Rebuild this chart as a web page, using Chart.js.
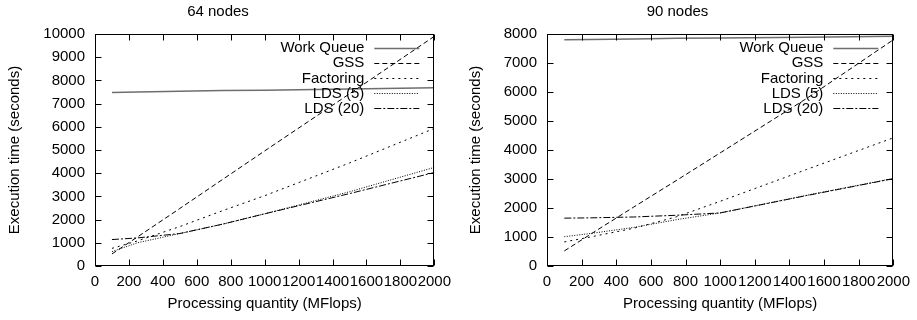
<!DOCTYPE html>
<html>
<head>
<meta charset="utf-8">
<script src="https://cdn.jsdelivr.net/npm/chart.js@4"></script>
<style>
  body { margin: 0; background: #fff; }
  .panel { position: absolute; top: 0; height: 320px; }
</style>
</head>
<body>
<div class="panel" style="left:0;width:458px"><canvas id="chart64" width="458" height="320"></canvas></div>
<div class="panel" style="left:458px;width:459px"><canvas id="chart90" width="459" height="320"></canvas></div>
<script>
// Processing quantity (MFlops) at which each run was measured
const mflops = [100, 250, 500, 750, 1000, 1500, 2000];

// 64 nodes, execution time (seconds)
const n64WorkQueue = [7480, 7500, 7530, 7560, 7580, 7630, 7680];
const n64Gss = [520, 1250, 2480, 3720, 4960, 7420, 9900];
const n64Factoring = [760, 1080, 1700, 2380, 3030, 4440, 5930];
const n64Lds5 = [620, 1000, 1400, 1800, 2250, 3200, 4250];
const n64Lds20 = [1140, 1210, 1400, 1800, 2250, 3120, 4030];

// 90 nodes, execution time (seconds)
const n90WorkQueue = [7800, 7810, 7830, 7850, 7860, 7890, 7920];
const n90Gss = [520, 1090, 2030, 2960, 3900, 5780, 7800];
const n90Factoring = [830, 1000, 1300, 1700, 2230, 3330, 4420];
const n90Lds5 = [1010, 1120, 1330, 1600, 1830, 2440, 3020];
const n90Lds20 = [1650, 1660, 1690, 1750, 1830, 2430, 3010];

const FONT = "'Liberation Sans', Arial, sans-serif";
const SIZE = 15;

Chart.defaults.font.family = FONT;
Chart.defaults.font.size = SIZE;
Chart.defaults.color = "#000";

// gnuplot-like border with inward ticks on all four sides
const framePlugin = {
  id: "frame",
  afterDatasetsDraw(chart) {
    const { ctx, chartArea: a, scales } = chart;
    const L = Math.round(a.left) + 0.5, R = Math.round(a.right) - 0.5;
    const T = Math.round(a.top) + 0.5, B = Math.round(a.bottom) - 0.5;
    ctx.save();
    ctx.strokeStyle = "#000";
    ctx.lineWidth = 1;
    ctx.setLineDash([]);
    ctx.beginPath();
    scales.x.ticks.forEach((t) => {
      const px = Math.round(scales.x.getPixelForValue(t.value)) + 0.5;
      ctx.moveTo(px, B); ctx.lineTo(px, B - 6);
      ctx.moveTo(px, T); ctx.lineTo(px, T + 6);
    });
    scales.y.ticks.forEach((t) => {
      const py = Math.round(scales.y.getPixelForValue(t.value)) + 0.5;
      ctx.moveTo(L, py); ctx.lineTo(L + 6, py);
      ctx.moveTo(R, py); ctx.lineTo(R - 6, py);
    });
    ctx.stroke();
    ctx.strokeRect(L, T, R - L, B - T);
    ctx.restore();
  },
};

// key in the top right corner: right-aligned label, line sample after it
const keyPlugin = {
  id: "key",
  afterDatasetsDraw(chart) {
    const { ctx, chartArea: a } = chart;
    ctx.save();
    ctx.font = SIZE + "px " + FONT;
    ctx.textAlign = "right";
    ctx.textBaseline = "middle";
    chart.data.datasets.forEach((ds, i) => {
      const y = a.top + 13.5 + i * 15.2;
      ctx.fillStyle = "#000";
      ctx.fillText(ds.label, a.right - 70, y + 0.5);
      ctx.strokeStyle = ds.borderColor;
      ctx.lineWidth = ds.borderWidth;
      ctx.setLineDash(ds.borderDash || []);
      ctx.beginPath();
      ctx.moveTo(a.right - 60, Math.round(y) + 0.5);
      ctx.lineTo(a.right - 15, Math.round(y) + 0.5);
      ctx.stroke();
    });
    ctx.restore();
  },
};

function series(label, values, color, width, dash) {
  return {
    label: label,
    data: mflops.map((m, i) => ({ x: m, y: values[i] })),
    borderColor: color,
    borderWidth: width,
    borderDash: dash,
    pointRadius: 0,
    fill: false,
    tension: 0,
  };
}

const plain = (v) => String(v);

function makeChart(id, title, yMax, yWidth, yTitlePad, rightPad, data) {
  return new Chart(document.getElementById(id), {
    type: "line",
    data: {
      datasets: [
        series("Work Queue", data[0], "#6e6e6e", 1.5, []),
        series("GSS", data[1], "#000", 1, [5, 3]),
        series("Factoring", data[2], "#000", 1, [2, 4]),
        series("LDS (5)", data[3], "#000", 1, [1, 1.5]),
        series("LDS (20)", data[4], "#000", 1, [7, 2, 2, 2]),
      ],
    },
    options: {
      responsive: false,
      animation: false,
      devicePixelRatio: 1,
      layout: { padding: { left: 0, right: rightPad, top: 0, bottom: 0 } },
      plugins: {
        legend: { display: false },
        tooltip: { enabled: false },
        title: {
          display: true,
          text: title,
          font: { size: SIZE, weight: "normal" },
          color: "#000",
          padding: { top: 2.5, bottom: 13.5 },
        },
      },
      scales: {
        x: {
          type: "linear",
          min: 0,
          max: 2000,
          grid: { display: false, drawTicks: false },
          border: { display: false },
          ticks: { stepSize: 200, autoSkip: false, maxRotation: 0, padding: 7, callback: plain },
          title: {
            display: true,
            text: "Processing quantity (MFlops)",
            padding: { top: 0, bottom: 7 },
          },
          afterFit: (s) => { s.height = 54; },
        },
        y: {
          min: 0,
          max: yMax,
          grid: { display: false, drawTicks: false },
          border: { display: false },
          ticks: { stepSize: 1000, autoSkip: false, padding: 10, callback: plain },
          title: {
            display: true,
            text: "Execution time (seconds)",
            padding: { top: yTitlePad, bottom: 0 },
          },
          afterFit: (s) => { s.width = yWidth; },
        },
      },
    },
    plugins: [framePlugin, keyPlugin],
  });
}

makeChart("chart64", "64 nodes", 10000, 95, 6, 22,
  [n64WorkQueue, n64Gss, n64Factoring, n64Lds5, n64Lds20]);
makeChart("chart90", "90 nodes", 8000, 89, 9, 20,
  [n90WorkQueue, n90Gss, n90Factoring, n90Lds5, n90Lds20]);
</script>
</body>
</html>
